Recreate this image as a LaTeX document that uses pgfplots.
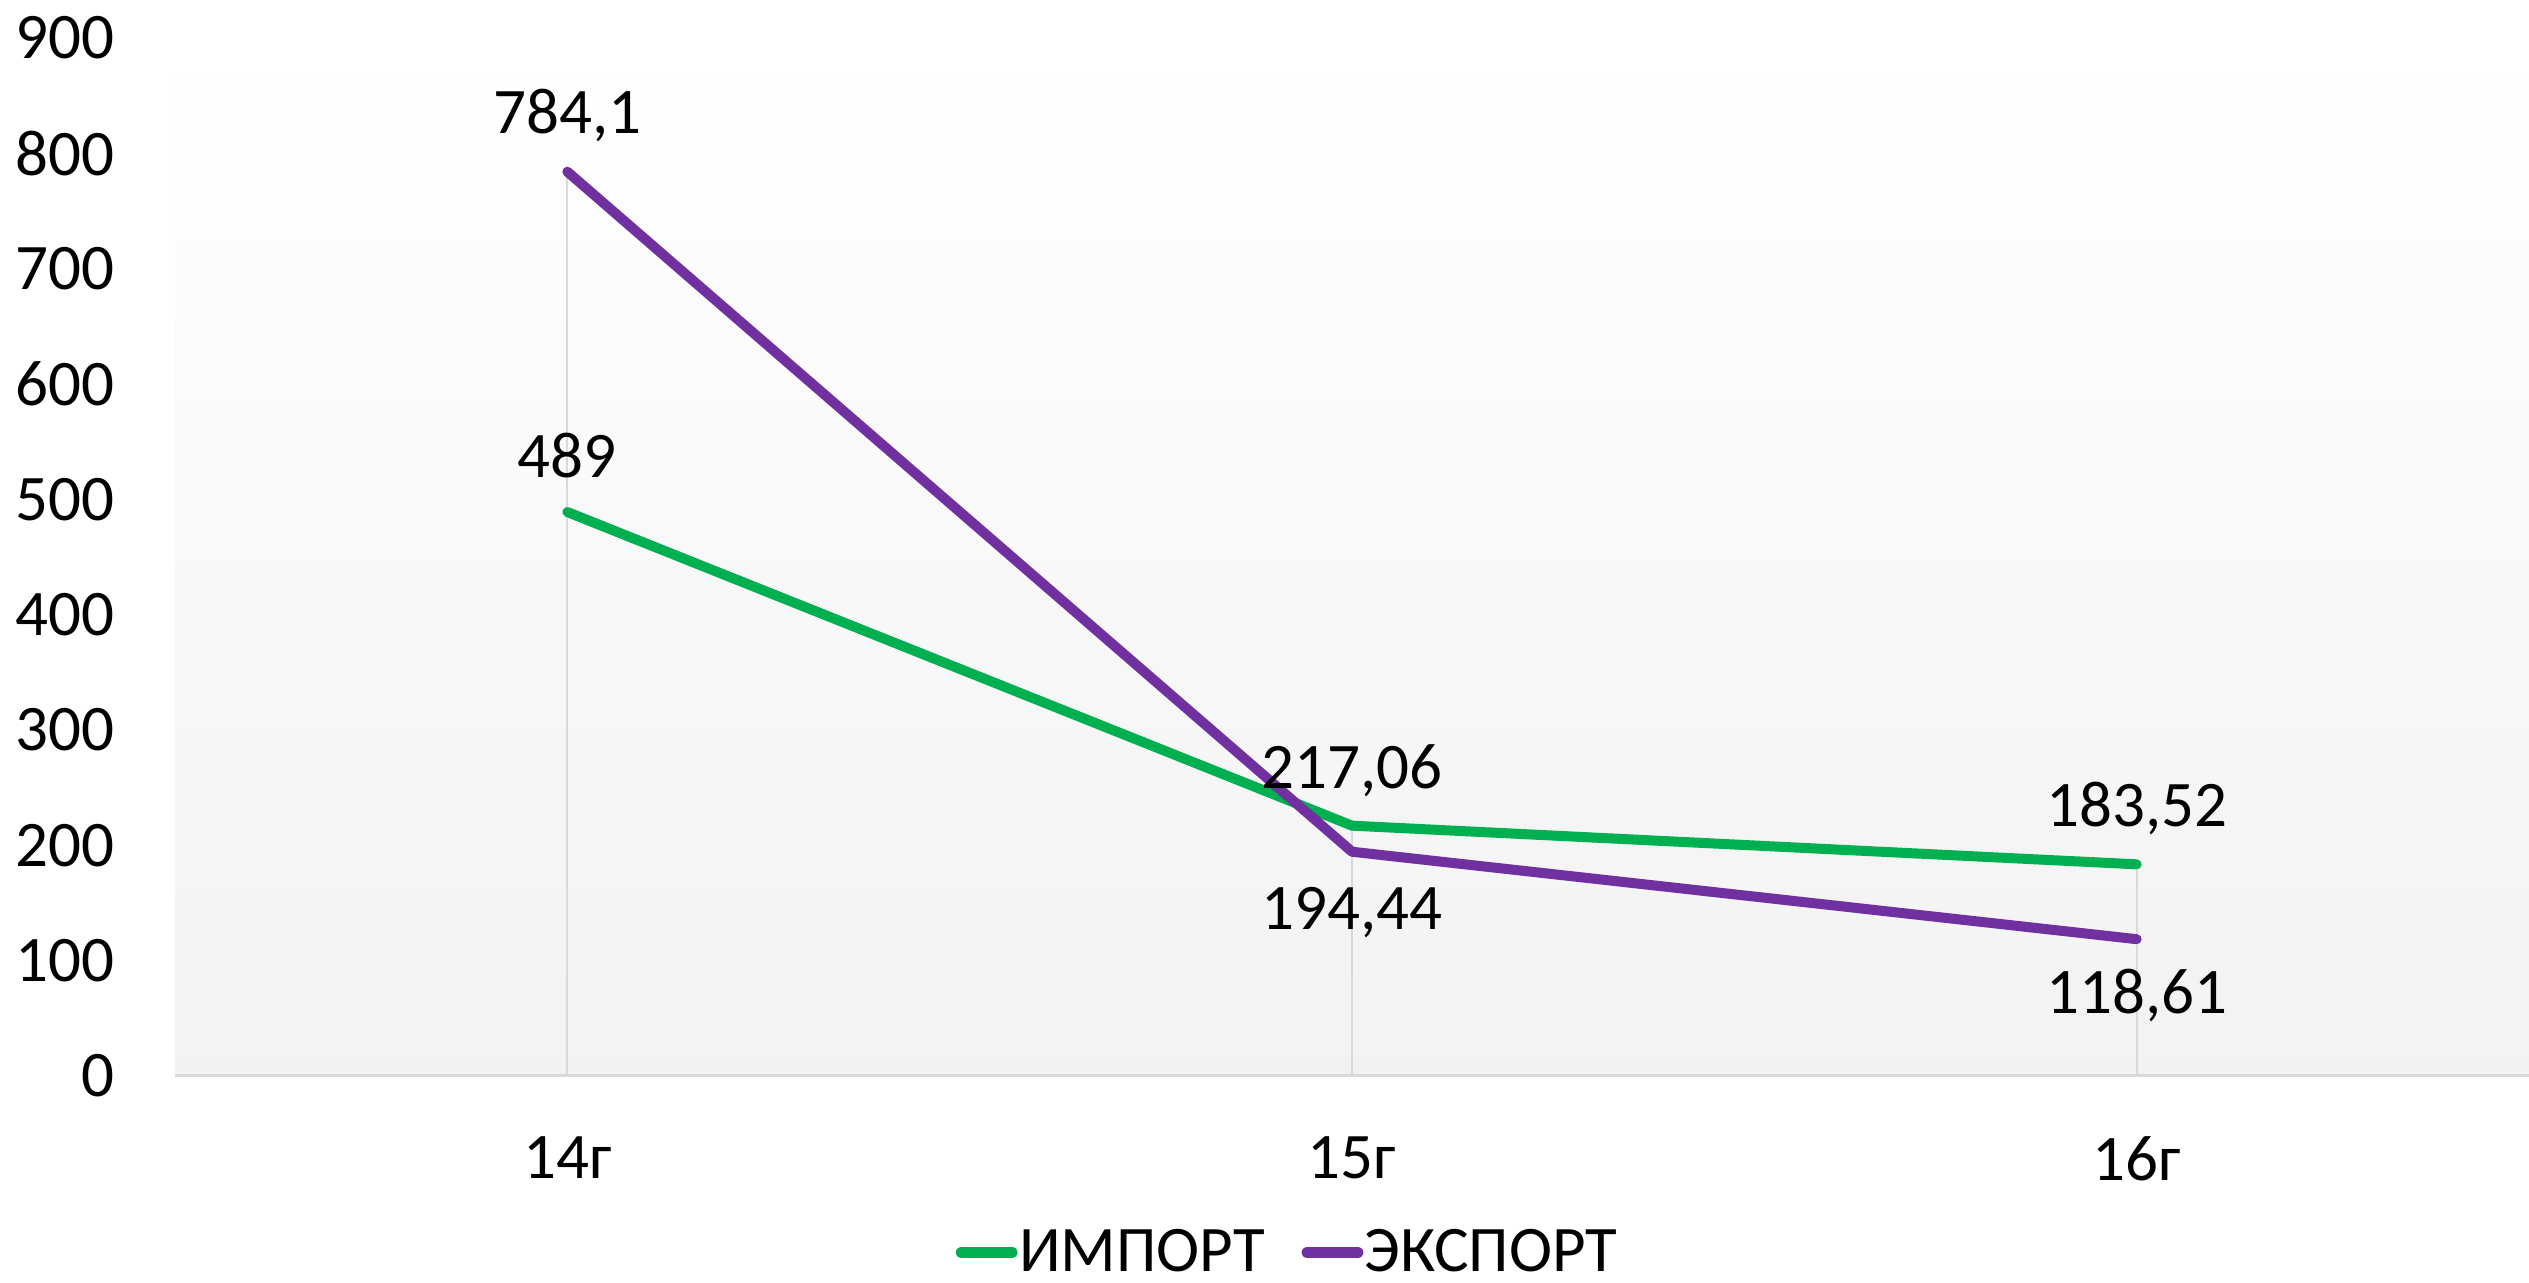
\documentclass[border=0pt]{standalone}
\usepackage{fontspec}
\setmainfont{Carlito}
\usepackage{pgfplots}
\pgfplotsset{compat=1.18}
\usepackage{pgfplotstable}
\definecolor{impgreen}{HTML}{00B050}
\definecolor{exppurple}{HTML}{7030A0}
\definecolor{gridgray}{HTML}{D9D9D9}

\pgfplotstableread{
x y lbl dy
0 489 489 16.8
1 217.06 217,06 16.5
2 183.52 183,52 16.8
}\importtable
\pgfplotstableread{
x y lbl dy
0 784.1 784,1 16.8
1 194.44 194,44 -18.3
2 118.61 118,61 -16.8
}\exporttable

\begin{document}
\begin{tikzpicture}
\useasboundingbox (-52.5pt,-62.1pt) rectangle (706.2pt,322.8pt);
\begin{axis}[
  at={(0,0)}, anchor=south west,
  scale only axis, width=706.2pt, height=311.4pt,
  xmin=-0.5, xmax=2.5, ymin=0, ymax=900,
  xtick={0,1,2}, xticklabels={14г,15г,16г},
  ytick={0,100,...,900},
  axis x line*=bottom, axis y line*=left,
  x axis line style={gridgray, line width=0.9pt, -},
  y axis line style={draw=none},
  tick style={draw=none},
  yticklabel style={anchor=east, inner sep=0pt, xshift=-18pt},
  xticklabel style={anchor=north, inner sep=0pt, yshift=-18pt},
  /pgf/number format/assume math mode=true,
  axis background/.style={shade, top color=white, bottom color=gray!10},
  font=\fontsize{19.5}{23}\selectfont,
  legend style={at={(0.4725,-0.170)}, anchor=center, draw=none, fill=none,
    legend columns=2, /tikz/every even column/.append style={column sep=10.6pt},
    font=\fontsize{19.5}{23}\selectfont, inner sep=0pt, nodes={inner sep=0.5pt}},
  legend cell align=left,
  legend image code/.code={\draw[#1, line width=3.5pt, line cap=round] (2pt,0) -- (17pt,0);},
]
\addplot[ycomb, gridgray, line width=0.6pt, mark=none, forget plot] table[x=x, y=y]{\importtable};
\addplot[ycomb, gridgray, line width=0.6pt, mark=none, forget plot] table[x=x, y=y]{\exporttable};
\addplot[impgreen, line width=3pt, line join=round, line cap=round, mark=none,
  nodes near coords, point meta=explicit symbolic,
  visualization depends on={\thisrow{dy} \as \dy},
  nodes near coords style={anchor=center, yshift=\dy pt, text=black, inner sep=0pt}]
  table[x=x, y=y, meta=lbl]{\importtable};
\addlegendentry{ИМПОРТ}
\addplot[exppurple, line width=3pt, line join=round, line cap=round, mark=none,
  nodes near coords, point meta=explicit symbolic,
  visualization depends on={\thisrow{dy} \as \dy},
  nodes near coords style={anchor=center, yshift=\dy pt, text=black, inner sep=0pt}]
  table[x=x, y=y, meta=lbl]{\exporttable};
\addlegendentry{ЭКСПОРТ}
\end{axis}
\end{tikzpicture}
\end{document}
